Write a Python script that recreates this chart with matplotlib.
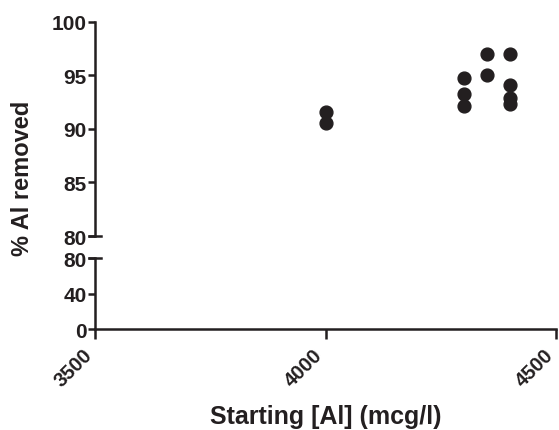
import matplotlib
matplotlib.use("Agg")
import matplotlib.pyplot as plt
import matplotlib.transforms as mtransforms

plt.rcParams['font.family'] = ['Liberation Sans', 'DejaVu Sans']
plt.rcParams['font.weight'] = 'bold'

# data
start_al = [4000, 4000, 4300, 4300, 4300, 4350, 4350, 4400, 4400, 4400, 4400]
removed = [91.6, 90.6, 94.8, 93.3, 92.1, 97.0, 95.0, 97.0, 94.1, 92.9, 92.3]

x_ticks = [3500, 4000, 4500]
top_ticks = [80, 85, 90, 95, 100]
bot_ticks = [0, 40, 80]

lw = 1.8
ink = '#231f20'
fig = plt.figure(figsize=(5.59, 4.31), dpi=100)
ax_top = fig.add_axes([0.170, 0.450, 0.825, 0.497])
ax_bot = fig.add_axes([0.170, 0.234, 0.825, 0.165])

for ax in (ax_top, ax_bot):
    ax.set_xlim(3500, 4500)
    ax.spines['top'].set_visible(False)
    ax.spines['right'].set_visible(False)
    ax.spines['left'].set_linewidth(lw)
    ax.spines['bottom'].set_linewidth(lw)
    ax.tick_params(width=lw, length=5, labelsize=15, pad=1, color=ink, labelcolor=ink)
    for s in ax.spines.values():
        s.set_color(ink)
    ax.patch.set_alpha(0)

ax_top.scatter(start_al, removed, s=85, color=ink, zorder=3, clip_on=False)
ax_top.set_ylim(80, 100)
ax_top.set_yticks(top_ticks)
ax_top.spines['bottom'].set_visible(False)
ax_top.tick_params(axis='x', bottom=False, labelbottom=False)
# break mark
ax_top.plot([-0.012, 0.012], [0, 0], transform=ax_top.transAxes, color=ink,
            lw=lw, clip_on=False)

ax_bot.scatter(start_al, removed, s=85, color=ink, zorder=3)
ax_bot.set_ylim(0, 80)
ax_bot.set_yticks(bot_ticks)
ax_bot.set_xticks(x_ticks)
ax_bot.set_xticklabels([str(t) for t in x_ticks], rotation=45, ha='right',
                       va='center', rotation_mode='anchor')
ax_bot.tick_params(axis='x', length=7, pad=9, labelsize=14.5)
shift = mtransforms.ScaledTranslation(-6 / 100, 0, fig.dpi_scale_trans)
for lab in ax_bot.get_xticklabels():
    lab.set_transform(lab.get_transform() + shift)
ax_bot.plot([-0.012, 0.012], [1, 1], transform=ax_bot.transAxes, color=ink,
            lw=lw, clip_on=False)
ax_bot.set_xlabel('Starting [Al] (mcg/l)', fontsize=18, fontweight='bold',
                  labelpad=10, color=ink)

fig.text(0.04, 0.587, '% Al removed', rotation=90, ha='center', va='center',
         fontsize=17, fontweight='bold', color=ink)

fig.savefig('out.png', dpi=100)
